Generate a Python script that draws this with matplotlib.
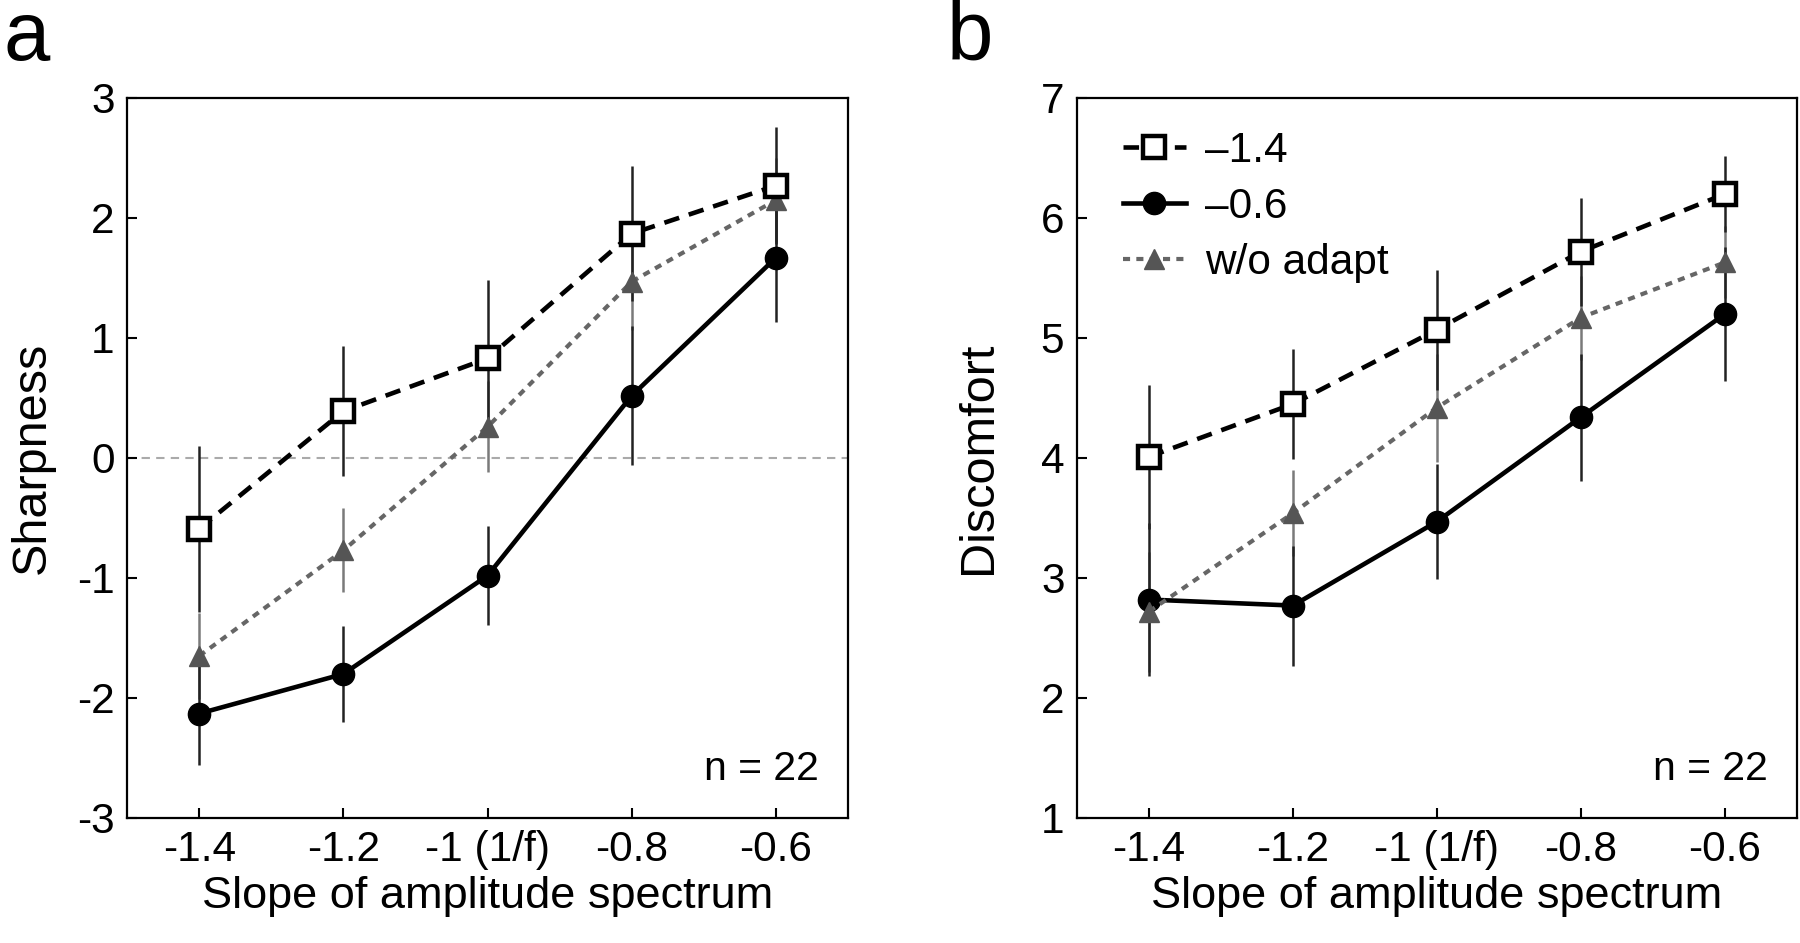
import matplotlib
matplotlib.use("Agg")
import matplotlib.pyplot as plt

plt.rcParams['font.family'] = ['Liberation Sans', 'DejaVu Sans']

slopes = [-1.4, -1.2, -1.0, -0.8, -0.6]
slope_labels = ["-1.4", "-1.2", "-1 (1/f)", "-0.8", "-0.6"]

# panel a: sharpness
sharp_adapt14 = [-0.59, 0.39, 0.83, 1.87, 2.27]
sharp_adapt14_err = [0.69, 0.54, 0.65, 0.56, 0.49]
sharp_adapt06 = [-2.13, -1.80, -0.98, 0.52, 1.67]
sharp_adapt06_err = [0.43, 0.40, 0.41, 0.58, 0.54]
sharp_noadapt = [-1.65, -0.77, 0.26, 1.47, 2.15]
sharp_noadapt_err = [0.36, 0.35, 0.38, 0.40, 0.35]
sharp_ticks = [-3, -2, -1, 0, 1, 2, 3]

# panel b: discomfort
disc_adapt14 = [4.01, 4.45, 5.07, 5.72, 6.20]
disc_adapt14_err = [0.60, 0.46, 0.50, 0.45, 0.32]
disc_adapt06 = [2.82, 2.77, 3.47, 4.34, 5.20]
disc_adapt06_err = [0.64, 0.50, 0.48, 0.53, 0.56]
disc_noadapt = [2.72, 3.54, 4.42, 5.17, 5.63]
disc_noadapt_err = [0.50, 0.36, 0.45, 0.35, 0.30]
disc_ticks = [1, 2, 3, 4, 5, 6, 7]

FS = 30.5


def draw_panel(ax, sq, sq_err, ci, ci_err, tr, tr_err, yticks, ylabel, ylab_x):
    # error bars first, markers on top
    ax.errorbar(slopes, tr, yerr=tr_err, fmt='none', ecolor='#7a7a7a',
                elinewidth=1.8, capsize=0, zorder=2)
    ax.errorbar(slopes, ci, yerr=ci_err, fmt='none', ecolor='#222222',
                elinewidth=1.8, capsize=0, zorder=2)
    ax.errorbar(slopes, sq, yerr=sq_err, fmt='none', ecolor='#222222',
                elinewidth=1.8, capsize=0, zorder=2)

    ax.plot(slopes, ci, color='black', lw=3.3, marker='o', ms=16,
            mfc='black', mec='black', label='\u20130.6', zorder=3)
    ax.plot(slopes, tr, color='#666666', lw=3, ls=(0, (1.7, 1.5)),
            marker='^', ms=15, mfc='#555555', mec='#555555',
            label='w/o adapt', zorder=4)
    ax.plot(slopes, sq, color='black', lw=3.3, ls=(0, (3.4, 2.2)), marker='s',
            ms=16.5, mfc='white', mec='black', mew=3.2, label='\u20131.4', zorder=5)

    ax.set_xlim(-1.5, -0.5)
    ax.set_ylim(yticks[0], yticks[-1])
    ax.set_xticks(slopes)
    ax.set_xticklabels(slope_labels)
    ax.set_yticks(yticks)
    ax.set_yticklabels([str(t) for t in yticks])
    ax.tick_params(direction='in', length=7, width=1.5, labelsize=FS, pad=9)
    for sp in ax.spines.values():
        sp.set_linewidth(1.6)
    ax.set_xlabel('Slope of amplitude spectrum', fontsize=32.5, labelpad=4)
    ax.set_ylabel(ylabel, fontsize=35)
    ax.yaxis.set_label_coords(ylab_x, 0.5)
    ax.text(0.96, 0.053, 'n = 22', transform=ax.transAxes, ha='right',
            va='baseline', fontsize=29.5)


fig = plt.figure(figsize=(18, 9.43), dpi=100)
ax1 = fig.add_axes([0.0706, 0.1326, 0.4006, 0.7635])
ax2 = fig.add_axes([0.5983, 0.1326, 0.4000, 0.7635])

ax1.axhline(0, color='#aaaaaa', lw=1.5, ls=(0, (4, 3)), zorder=1)
draw_panel(ax1, sharp_adapt14, sharp_adapt14_err, sharp_adapt06, sharp_adapt06_err,
           sharp_noadapt, sharp_noadapt_err, sharp_ticks, 'Sharpness', -0.1)
draw_panel(ax2, disc_adapt14, disc_adapt14_err, disc_adapt06, disc_adapt06_err,
           disc_noadapt, disc_noadapt_err, disc_ticks, 'Discomfort', -0.105)

handles, labels = ax2.get_legend_handles_labels()
order = [2, 0, 1]
ax2.legend([handles[i] for i in order], [labels[i] for i in order],
           loc='upper left', bbox_to_anchor=(0.04, 0.978), frameon=False,
           fontsize=FS, handlelength=1.5, handletextpad=0.45, labelspacing=0.38,
           numpoints=1, borderaxespad=0)

fig.text(0.002, 1 - 60 / 943, 'a', fontsize=60, va='baseline')
fig.text(0.526, 1 - 60 / 943, 'b', fontsize=60, va='baseline')

fig.savefig('out.png', dpi=100)
